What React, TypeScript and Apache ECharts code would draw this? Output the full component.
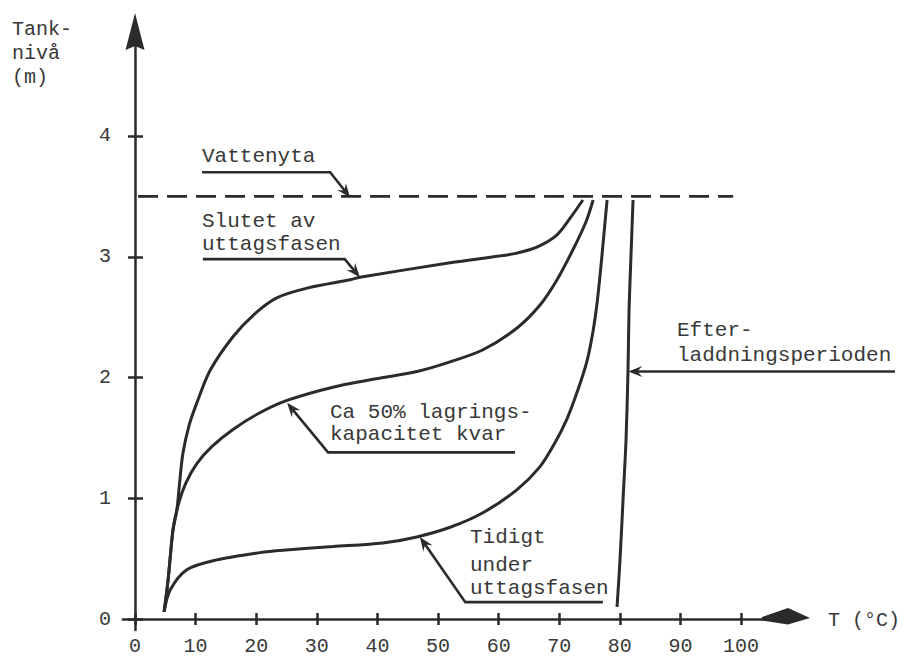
import { useEffect, useRef } from "react";
import * as echarts from "echarts";

// ---- axis ticks ----
const xTicks = [0, 10, 20, 30, 40, 50, 60, 70, 80, 90, 100];
const yTicks = [0, 1, 2, 3, 4];

// ---- curves: [T (°C), tank level (m)] ----
const earlyPhase = [
  [4.8, 0.06], [5.8, 0.24], [8.6, 0.41], [13.5, 0.49], [20.6, 0.55], [24.4, 0.57],
  [32.7, 0.6], [40.9, 0.63], [46.5, 0.68], [52.0, 0.76], [57.4, 0.88], [63.0, 1.07],
  [66.8, 1.26], [69.3, 1.46], [71.3, 1.66], [73.1, 1.9], [74.6, 2.14], [75.6, 2.39],
  [76.3, 2.64], [76.9, 2.93], [77.4, 3.2], [77.9, 3.47],
];
const halfCapacity = [
  [4.8, 0.06], [5.45, 0.32], [6.27, 0.74], [7.1, 0.94], [8.42, 1.13], [10.23, 1.29],
  [12.71, 1.43], [16.17, 1.57], [20.3, 1.7], [25.08, 1.81], [32.67, 1.92], [40.92, 2.0],
  [46.53, 2.05], [51.98, 2.13], [57.43, 2.23], [63.04, 2.41], [66.83, 2.6], [69.64, 2.81],
  [72.28, 3.06], [74.42, 3.29], [75.6, 3.47],
];
const endPhase = [
  [4.8, 0.06], [5.45, 0.32], [6.27, 0.74], [6.9, 0.9], [7.4, 1.15], [7.9, 1.37],
  [8.9, 1.6], [10.2, 1.79], [12.4, 2.06], [16.2, 2.34], [19.8, 2.53], [23.4, 2.66],
  [28.4, 2.74], [35.5, 2.81], [37.1, 2.83], [52.0, 2.95], [60.7, 3.01], [63.0, 3.03],
  [66.3, 3.08], [69.6, 3.18], [71.8, 3.32], [73.9, 3.47],
];
const rechargePeriod = [
  [79.54, 0.1], [80.03, 0.49], [80.53, 0.99], [81.02, 1.48], [81.35, 2.06],
  [81.52, 2.56], [81.85, 3.02], [82.18, 3.47],
];
const waterSurface = [[0.5, 3.5], [98.7, 3.5]];

// ---- annotation leaders (data coords), arrow at last point ----
const leaderWater = [[11.06, 3.7], [32.2, 3.7], [35.5, 3.49]];
const leaderEnd = [[11.2, 2.98], [34.6, 2.98], [37.1, 2.83]];
const leaderHalf = [[62.7, 1.38], [31.85, 1.38], [25.1, 1.79]];
const leaderEarly = [[77.2, 0.14], [54.5, 0.14], [47.0, 0.68]];
const leaderRecharge = [[125.4, 2.05], [81.4, 2.05]];

// ---- annotation texts ----
const labelWater = ["Vattenyta"];
const labelEnd = ["Slutet av", "uttagsfasen"];
const labelHalf = ["Ca 50% lagrings-", "kapacitet kvar"];
const labelEarly = ["Tidigt", "under", "uttagsfasen"];
const labelRecharge = ["Efter-", "laddningsperioden"];
const yTitle = ["Tank-", "nivå", "(m)"];
const xTitle = "T (°C)";

const X_MIN = -2;
const X_MAX = 109.4;
const Y_MIN = -0.09;
const Y_MAX = 4.92;

const INK = "#2b2b2b";
const TXT = "#383838";
const FONT = '"Liberation Mono", "DejaVu Sans Mono", monospace';

export default function App() {
  const ref = useRef<HTMLDivElement>(null);

  useEffect(() => {
    if (!ref.current) return;
    const chart = echarts.init(ref.current, null, { renderer: "svg" });

    const curve = (name: string, data: number[][]) => ({
      name,
      type: "line",
      data,
      symbol: "none",
      smooth: 0.3,
      lineStyle: { color: INK, width: 3 },
      xAxisIndex: 0,
      yAxisIndex: 0,
      z: 3,
    });

    chart.setOption({
      animation: false,
      backgroundColor: "#ffffff",
      grid: { left: 122.9, right: 109, top: 24.9, bottom: 27.1, containLabel: false, outerBoundsMode: "none" },
      xAxis: [
        {
          type: "value",
          min: X_MIN,
          max: X_MAX,
          axisLine: { onZero: true, onZeroAxisIndex: 0, lineStyle: { color: INK, width: 2.5 } },
          axisTick: { customValues: xTicks, length: 6, lineStyle: { color: INK, width: 2.5 } },
          axisLabel: {
            customValues: xTicks,
            margin: 8,
            fontSize: 20,
            lineHeight: 18,
            fontFamily: FONT,
            color: TXT,
          },
          splitLine: { show: false },
        },
        {
          type: "value",
          min: X_MIN,
          max: X_MAX,
          position: "bottom",
          axisLine: { show: false, onZero: true, onZeroAxisIndex: 0 },
          axisTick: { inside: true, customValues: xTicks, length: 6, lineStyle: { color: INK, width: 2.5 } },
          axisLabel: { show: false },
          splitLine: { show: false },
        },
      ],
      yAxis: [
        {
          type: "value",
          min: Y_MIN,
          max: Y_MAX,
          axisLine: { onZero: true, onZeroAxisIndex: 0, lineStyle: { color: INK, width: 2.5 } },
          axisTick: { customValues: yTicks, length: 7, lineStyle: { color: INK, width: 2.5 } },
          axisLabel: { customValues: yTicks, margin: 12, fontSize: 20, fontFamily: FONT, color: TXT },
          splitLine: { show: false },
        },
        {
          type: "value",
          min: Y_MIN,
          max: Y_MAX,
          position: "left",
          axisLine: { show: false, onZero: true, onZeroAxisIndex: 0 },
          axisTick: { inside: true, customValues: yTicks, length: 8, lineStyle: { color: INK, width: 2.5 } },
          axisLabel: { show: false },
          splitLine: { show: false },
        },
      ],
      series: [
        curve("Tidigt under uttagsfasen", earlyPhase),
        curve("Ca 50% lagringskapacitet kvar", halfCapacity),
        curve("Slutet av uttagsfasen", endPhase),
        curve("Efterladdningsperioden", rechargePeriod),
        {
          name: "Vattenyta",
          type: "line",
          data: waterSurface,
          symbol: "none",
          lineStyle: { color: INK, width: 2.8, type: [20, 9] },
          xAxisIndex: 0,
          yAxisIndex: 0,
          z: 2,
        },
      ],
    });

    const toPx = (p: number[]) =>
      chart.convertToPixel({ xAxisIndex: 0, yAxisIndex: 0 }, p) as number[];

    const leader = (pts: number[][]) => {
      const px = pts.map(toPx);
      const tip = px[px.length - 1];
      const from = px[px.length - 2];
      const dx = tip[0] - from[0];
      const dy = tip[1] - from[1];
      const len = Math.hypot(dx, dy) || 1;
      const ux = dx / len;
      const uy = dy / len;
      const nx = -uy;
      const ny = ux;
      const L = 14;
      const W = 5.5;
      const head = [
        tip,
        [tip[0] - ux * L + nx * W, tip[1] - uy * L + ny * W],
        [tip[0] - ux * L * 0.65, tip[1] - uy * L * 0.65],
        [tip[0] - ux * L - nx * W, tip[1] - uy * L - ny * W],
      ];
      const shaftEnd = [tip[0] - ux * L * 0.6, tip[1] - uy * L * 0.6];
      return [
        {
          type: "polyline",
          shape: { points: [...px.slice(0, -1), shaftEnd] },
          style: { stroke: INK, lineWidth: 2.6, fill: null },
          z: 10,
        },
        { type: "polygon", shape: { points: head }, style: { fill: INK }, z: 10 },
      ];
    };

    // axis arrow heads, placed at the ends of the axes
    const xEnd = toPx([X_MAX, 0]);
    const yEnd = toPx([0, Y_MAX]);
    const xTip = [xEnd[0] + 12, xEnd[1] - 1];
    const yTip = [yEnd[0], yEnd[1] - 12];
    const axisArrows = [
      {
        type: "polygon",
        shape: {
          points: [
            xTip,
            [xTip[0] - 22, xTip[1] - 10],
            [xTip[0] - 48, xTip[1] - 1],
            [xTip[0] - 48, xTip[1] + 2.5],
            [xTip[0] - 22, xTip[1] + 6.5],
          ],
        },
        style: { fill: INK },
        z: 10,
      },
      {
        type: "polygon",
        shape: {
          points: [
            yTip,
            [yTip[0] + 9.5, yTip[1] + 37],
            [yTip[0], yTip[1] + 33],
            [yTip[0] - 9.5, yTip[1] + 37],
          ],
        },
        style: { fill: INK },
        z: 10,
      },
    ];

    const textBlock = (lines: string[], x: number, baselines: number[], size = 21) =>
      lines.map((t, i) => ({
        type: "text",
        x,
        y: baselines[i] - size * 0.31,
        style: {
          text: t,
          font: `${size}px ${FONT}`,
          fill: TXT,
          align: "left",
          verticalAlign: "middle",
        },
        z: 10,
      }));

    chart.setOption({
      graphic: [
        ...axisArrows,
        ...leader(leaderWater),
        ...leader(leaderEnd),
        ...leader(leaderHalf),
        ...leader(leaderEarly),
        ...leader(leaderRecharge),
        ...textBlock(labelWater, 202, [163]),
        ...textBlock(labelEnd, 202, [228, 251]),
        ...textBlock(labelHalf, 330, [419, 441]),
        ...textBlock(labelEarly, 470, [544, 572, 595]),
        ...textBlock(labelRecharge, 677, [337, 362]),
        ...textBlock(yTitle, 12, [36, 60, 84], 20),
        ...textBlock([xTitle], 828, [627], 20),
      ],
    });

    return () => chart.dispose();
  }, []);

  return (
    <div
      ref={ref}
      style={{ position: "fixed", left: 0, top: 0, width: 907, height: 657, background: "#fff" }}
    />
  );
}
